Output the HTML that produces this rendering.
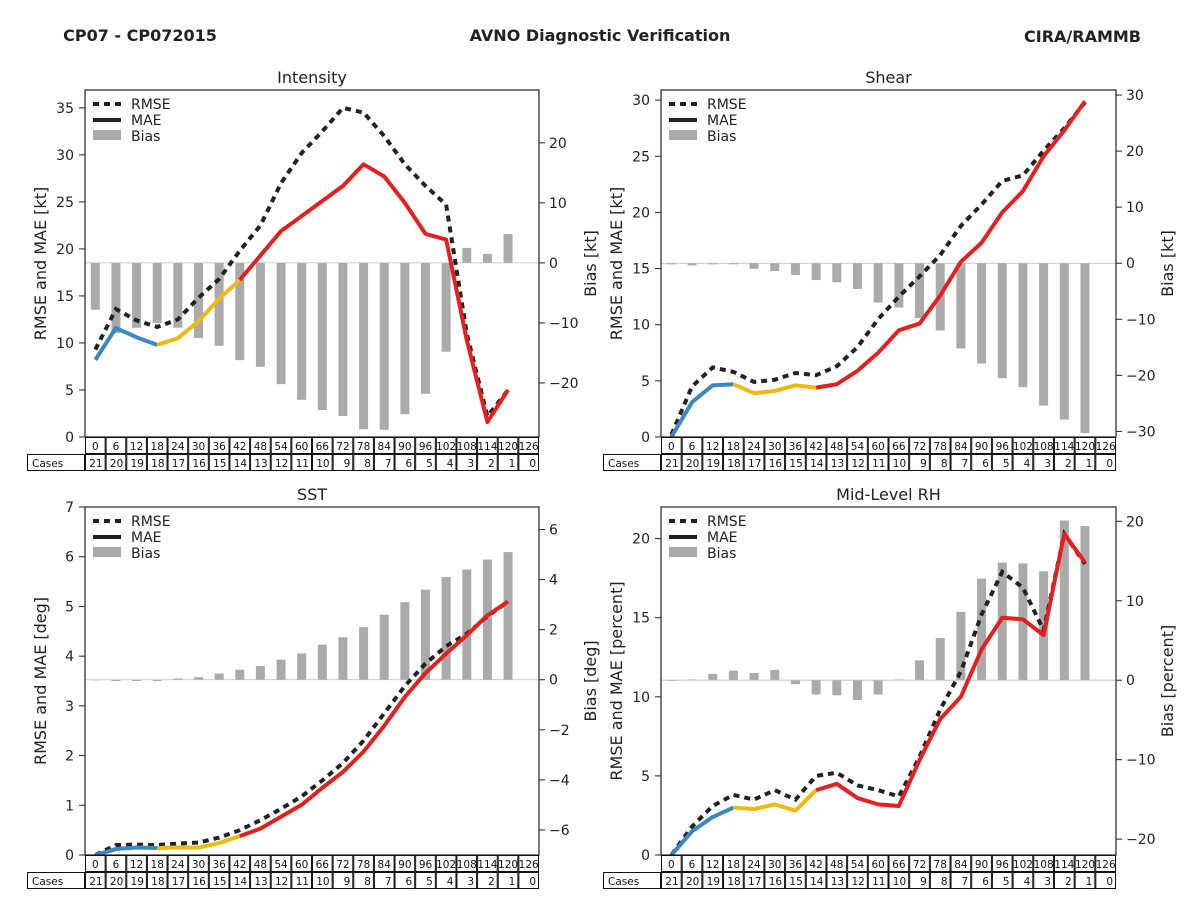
<!DOCTYPE html>
<html><head><meta charset="utf-8"><style>
body{margin:0;background:#fff}
svg{display:block;font-family:"DejaVu Sans","Liberation Sans",sans-serif}
</style></head><body>
<svg id="c" width="1200" height="900" viewBox="0 0 1200 900">
<text x="140" y="41" text-anchor="middle" font-size="16" font-weight="bold" fill="#222">CP07 - CP072015</text>
<text x="600" y="41" text-anchor="middle" font-size="16" font-weight="bold" fill="#222">AVNO Diagnostic Verification</text>
<text x="1141" y="42" text-anchor="end" font-size="16" font-weight="bold" fill="#222">CIRA/RAMMB</text>
</svg>
<script>
const hours=[0,6,12,18,24,30,36,42,48,54,60,66,72,78,84,90,96,102,108,114,120,126];
const cases=[21,20,19,18,17,16,15,14,13,12,11,10,9,8,7,6,5,4,3,2,1,0];
const intRmse=[9.3,13.6,12.4,11.7,12.5,14.8,16.8,19.8,22.5,27.0,30.2,32.5,35.0,34.5,32.0,29.0,26.7,24.7,11,2.2,5.0];
const intMae=[8.2,11.6,10.6,9.8,10.5,12.3,14.7,16.7,19.3,21.9,23.5,25.1,26.7,29.0,27.7,24.9,21.6,21.0,10.3,1.6,5.0];
const intBias=[-7.8,-11.7,-10.8,-10,-10.8,-12.5,-13.8,-16.2,-17.3,-20.2,-22.8,-24.5,-25.5,-27.7,-27.8,-25.2,-21.8,-14.8,2.5,1.5,4.8];
const shRmse=[0.2,4.5,6.2,5.8,4.9,5.1,5.7,5.5,6.3,8.0,10.5,12.5,14.3,16.2,18.8,20.7,22.8,23.3,25.5,27.5,29.8];
const shMae=[0,3.1,4.6,4.7,3.9,4.1,4.6,4.4,4.7,5.9,7.5,9.5,10.1,12.6,15.6,17.3,20.0,21.9,25.0,27.3,29.9];
const shBias=[-0.2,-0.4,-0.2,-0.2,-1.0,-1.4,-2.1,-3.0,-3.4,-4.6,-7.0,-7.9,-9.8,-12,-15.2,-17.9,-20.5,-22.1,-25.4,-27.9,-30.3];
const sstRmse=[0,0.2,0.21,0.2,0.23,0.25,0.35,0.5,0.7,0.93,1.18,1.5,1.85,2.3,2.85,3.4,3.85,4.2,4.45,4.8,5.1];
const sstMae=[0,0.12,0.15,0.14,0.15,0.15,0.24,0.38,0.53,0.77,1.01,1.35,1.67,2.08,2.6,3.18,3.66,4.05,4.42,4.82,5.1];
const sstBias=[0,-0.05,-0.05,-0.05,0.05,0.1,0.25,0.4,0.55,0.8,1.05,1.4,1.7,2.1,2.6,3.1,3.6,4.1,4.4,4.8,5.1];
const rhRmse=[0,1.8,3.1,3.8,3.5,4.1,3.5,5.0,5.2,4.4,4.1,3.7,6.2,9.2,11.6,15.2,17.9,16.9,14.2,20.3,18.4];
const rhMae=[0,1.5,2.4,3.0,2.9,3.2,2.8,4.1,4.5,3.6,3.2,3.1,6.0,8.6,10.0,13.0,15.0,14.9,13.9,20.3,18.5];
const rhBias=[0,0.1,0.8,1.2,0.9,1.3,-0.5,-1.8,-1.9,-2.5,-1.8,0.1,2.5,5.3,8.6,12.8,14.8,14.7,13.7,20.1,19.4];
const intLeftTicks=[0,5,10,15,20,25,30,35], intRightTicks=[-20,-10,0,10,20];
const shLeftTicks=[0,5,10,15,20,25,30], shRightTicks=[-30,-20,-10,0,10,20,30];
const sstLeftTicks=[0,1,2,3,4,5,6,7], sstRightTicks=[-6,-4,-2,0,2,4,6];
const rhLeftTicks=[0,5,10,15,20], rhRightTicks=[-20,-10,0,10,20];

const svg=document.getElementById('c');
const NS='http://www.w3.org/2000/svg';
function mk(tag,attrs,parent,txt){const e=document.createElementNS(NS,tag);for(const k in attrs)e.setAttribute(k,attrs[k]);if(txt!==undefined)e.textContent=txt;(parent||svg).appendChild(e);return e;}

function panel(o){
  const g=mk('g',{});
  
  
  const L=o.x0,R=o.x1,T=o.y0,B=o.y1,cw=(R-L)/22;
  const xs=h=>L+(h/6+0.5)*cw;
  const yl=v=>B-(v-o.lmin)/(o.lmax-o.lmin)*(B-T);
  const yr=v=>B-(v-o.rmin)/(o.rmax-o.rmin)*(B-T);
  // bars
  const zero=yr(0);
  o.bias.forEach((v,i)=>{
    const x=xs(hours[i]), y=yr(v);
    const b=mk('rect',{x:x-4.5,y:Math.min(y,zero),width:9,height:Math.max(Math.abs(y-zero),0.6),fill:'#aaaaaa'},g);
    
    
  });
  const zl=mk('line',{x1:L,x2:R,y1:zero,y2:zero,stroke:'#bbb','stroke-width':0.8},g);
  
  
  // rmse
  const pts=a=>a.map((v,i)=>xs(hours[i])+','+yl(v));
  const rm=mk('polyline',{points:pts(o.rmse).join(' '),fill:'none',stroke:'#222','stroke-width':4,'stroke-dasharray':'6,5'},g);
  
  
  const segs=[[0,3,'#3a87c3'],[3,7,'#f0b90f'],[7,o.mae.length-1,'#e3201f']];
  segs.forEach(s=>{
    const p=[];for(let i=s[0];i<=s[1];i++)p.push(xs(hours[i])+','+yl(o.mae[i]));
    const m=mk('polyline',{points:p.join(' '),fill:'none',stroke:s[2],'stroke-width':4,'stroke-linejoin':'round'},g);
    
    
  });
  const fr=mk('rect',{x:L,y:T,width:R-L,height:B-T,fill:'none',stroke:'#222','stroke-width':1.2},g);
  
  
  o.lt.forEach(v=>{const y=yl(v);mk('line',{x1:L-6,x2:L,y1:y,y2:y,stroke:'#222'},g);
    const t=mk('text',{x:L-11,y:y+5,'text-anchor':'end','font-size':14,fill:'#222'},g,v);
    
    });
  o.rt.forEach(v=>{const y=yr(v);mk('line',{x1:R,x2:R+6,y1:y,y2:y,stroke:'#222'},g);
    const t=mk('text',{x:R+10,y:y+5,'font-size':14,fill:'#222'},g,v<0?'\u2212'+(-v):v);
    
    });
  const ti=mk('text',{x:(L+R)/2,y:T-7,'text-anchor':'middle','font-size':16,fill:'#222'},g,o.title);
  
  
  const cy=(T+B)/2;
  const la=mk('text',{x:0,y:0,'text-anchor':'middle','font-size':16,fill:'#222',transform:`translate(${L-39},${cy}) rotate(-90)`},g,o.ll);
  
  
  const ra=mk('text',{x:0,y:0,'text-anchor':'middle','font-size':16,fill:'#222',transform:`translate(${R+57},${cy}) rotate(-90)`},g,o.rl);
  
  
  // legend
  const lx=L+8,ly=T+14;
  mk('line',{x1:lx,x2:lx+28,y1:ly,y2:ly,stroke:'#222','stroke-width':4,'stroke-dasharray':'6,5'},g);
  mk('line',{x1:lx,x2:lx+28,y1:ly+16,y2:ly+16,stroke:'#222','stroke-width':4},g);
  mk('rect',{x:lx,y:ly+26,width:28,height:10,fill:'#aaa'},g);
  ['RMSE','MAE','Bias'].forEach((s,i)=>{const t=mk('text',{x:lx+38,y:ly+5+16*i,'font-size':14,fill:'#222'},g,s);
    
    });
  // table
  hours.forEach((h,i)=>{
    const x=L+i*cw;
    mk('rect',{x:x+0.5,y:B+0.5,width:cw-1,height:16,fill:'#fff',stroke:'#111'},g);
    const t=mk('text',{x:x+cw/2,y:B+13,'text-anchor':'middle','font-size':10.5,fill:'#111'},g,h);
    
    
    mk('rect',{x:x+0.5,y:B+17.5,width:cw-1,height:16,fill:'#fff',stroke:'#111'},g);
    const c=mk('text',{x:x+cw-3,y:B+30,'text-anchor':'end','font-size':10.5,fill:'#111'},g,cases[i]);
    
    
  });
  mk('rect',{x:L-58+0.5,y:B+17.5,width:57,height:16,fill:'#fff',stroke:'#111'},g);
  const cl=mk('text',{x:L-53,y:B+30,'font-size':10.5,fill:'#111'},g,'Cases');
  
  
}
panel({name:'intensity',title:'Intensity',x0:85,x1:539,y0:90,y1:437,lmin:0,lmax:36.9,rmin:-29,rmax:28.8,rmse:intRmse,mae:intMae,bias:intBias,lt:intLeftTicks,rt:intRightTicks,ll:'RMSE and MAE [kt]',rl:'Bias [kt]'});
panel({name:'shear',title:'Shear',x0:661,x1:1116,y0:90,y1:437,lmin:0,lmax:30.9,rmin:-31,rmax:30.9,rmse:shRmse,mae:shMae,bias:shBias,lt:shLeftTicks,rt:shRightTicks,ll:'RMSE and MAE [kt]',rl:'Bias [kt]'});
panel({name:'sst',title:'SST',x0:85,x1:539,y0:507,y1:855,lmin:0,lmax:7,rmin:-7,rmax:6.9,rmse:sstRmse,mae:sstMae,bias:sstBias,lt:sstLeftTicks,rt:sstRightTicks,ll:'RMSE and MAE [deg]',rl:'Bias [deg]'});
panel({name:'mid-level-rh',title:'Mid-Level RH',x0:661,x1:1116,y0:507,y1:855,lmin:0,lmax:22,rmin:-22,rmax:21.8,rmse:rhRmse,mae:rhMae,bias:rhBias,lt:rhLeftTicks,rt:rhRightTicks,ll:'RMSE and MAE [percent]',rl:'Bias [percent]'});
</script>
</body></html>
